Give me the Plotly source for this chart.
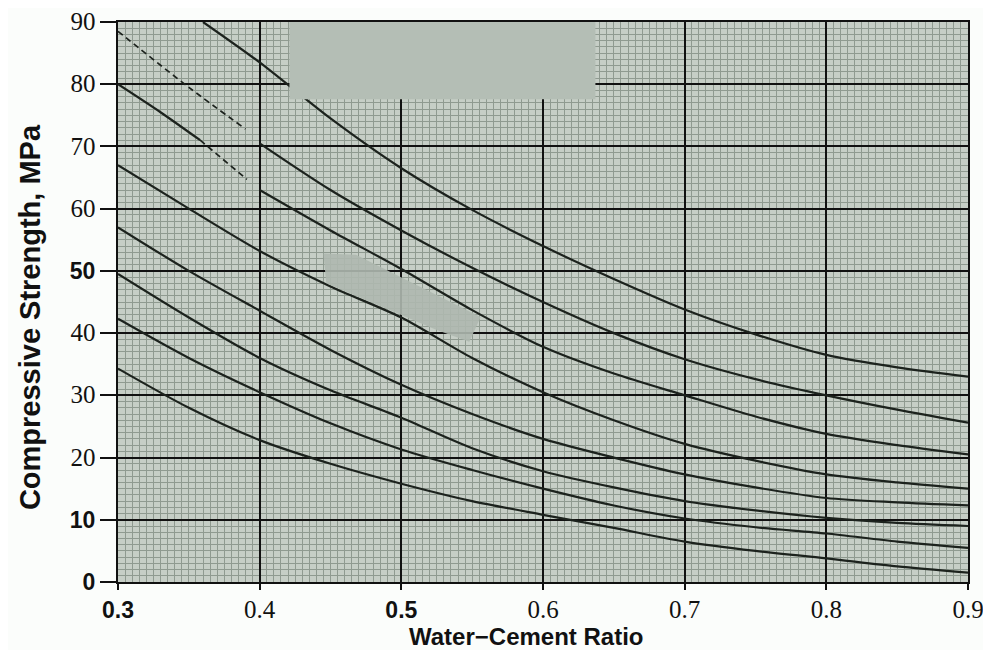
import plotly.graph_objects as go

# ---- data ----
wc = [0.30, 0.35, 0.40, 0.45, 0.50, 0.55, 0.60, 0.65, 0.70, 0.75, 0.80, 0.85, 0.90]

c1_x = [0.36, 0.40, 0.45, 0.50, 0.55, 0.60, 0.65, 0.70, 0.75, 0.80, 0.85, 0.90]
c1_y = [90, 83.5, 74.5, 66.5, 59.8, 54, 48.7, 43.8, 39.8, 36.5, 34.5, 33]

c2_dash_x = [0.30, 0.35, 0.39]
c2_dash_y = [88.5, 79.5, 72.8]
c2_x = [0.40, 0.45, 0.50, 0.55, 0.60, 0.65, 0.70, 0.75, 0.80, 0.85, 0.90]
c2_y = [70.5, 63, 56.5, 50.5, 45, 40, 35.8, 32.6, 30, 27.7, 25.6]

c3_a_x = [0.30, 0.33, 0.358]
c3_a_y = [80, 75.5, 71]
c3_dash_x = [0.358, 0.391]
c3_dash_y = [71, 64.7]
c3_x = [0.40, 0.45, 0.50, 0.55, 0.60, 0.65, 0.70, 0.75, 0.80, 0.85, 0.90]
c3_y = [63, 56.5, 50.3, 43.7, 37.8, 33.5, 30, 26.6, 23.8, 22, 20.5]

c4_y = [67, 60, 53.2, 47.5, 42.5, 36, 30.5, 26, 22.2, 19.5, 17.3, 16, 15]
c5_y = [57, 50, 43.6, 37.3, 31.7, 27, 23, 20, 17.3, 15.2, 13.5, 12.8, 12.3]
c6_y = [49.5, 42.5, 36, 30.8, 26.4, 21.5, 17.8, 15.2, 13, 11.5, 10.3, 9.5, 9]
c7_y = [42.3, 36, 30.5, 25.5, 21.3, 18, 15, 12.3, 10.2, 8.8, 7.8, 6.5, 5.5]
c8_y = [34.3, 28, 22.8, 19, 15.8, 13, 10.8, 8.7, 6.5, 5, 3.8, 2.5, 1.5]

x_ticks = [0.3, 0.4, 0.5, 0.6, 0.7, 0.8, 0.9]
x_labels = ["0.3", "0.4", "0.5", "0.6", "0.7", "0.8", "0.9"]
x_bold = [True, False, True, False, False, False, False]
y_ticks = [0, 10, 20, 30, 40, 50, 60, 70, 80, 90]
y_labels = ["0", "10", "20", "30", "40", "50", "60", "70", "80", "90"]
y_bold = [True, True, False, False, False, True, False, False, False, False]

x_title = "Water−Cement Ratio"
y_title = "Compressive Strength, MPa"

SERIF = "Liberation Serif"
SANS = "Liberation Sans"
INK = "#1c221d"


def fmt(lbl, bold):
    if bold:
        return f"<span style='font-family:{SANS};font-size:23px'><b>{lbl}</b></span>"
    return f"<span style='font-family:{SERIF};font-size:25px'>{lbl}</span>"


fig = go.Figure()


def add(x, y, dash="solid", width=2.2):
    fig.add_trace(go.Scatter(
        x=x, y=y, mode="lines",
        line=dict(color=INK, width=width, dash=dash, shape="spline", smoothing=0.8),
        hoverinfo="skip", showlegend=False))


add(c1_x, c1_y)
add(c2_dash_x, c2_dash_y, dash="6px,4px", width=1.7)
add(c2_x, c2_y)
add(c3_a_x, c3_a_y)
add(c3_dash_x, c3_dash_y, dash="6px,4px", width=1.7)
add(c3_x, c3_y)
for ys in (c4_y, c5_y, c6_y, c7_y, c8_y):
    add(wc, ys)

# erased label patches of the scan
fig.add_shape(type="rect", xref="x", yref="y", x0=0.421, x1=0.637, y0=77.6, y1=90,
              fillcolor="#b4beb5", line_width=0, layer="above")
fig.add_shape(type="path", xref="x", yref="y",
              path="M0.445,52.8 L0.468,52.6 L0.556,42.6 L0.548,38.6 L0.525,40.5 L0.447,48 Z",
              fillcolor="#aeb8af", line_width=0, layer="above", opacity=0.9)

# axis titles
fig.add_annotation(text=f"<b>{x_title}</b>", xref="paper", yref="paper", x=0.481, y=0,
                   xanchor="center", yanchor="top", yshift=-39, showarrow=False,
                   font=dict(size=24, family=SANS, color="#111"))
fig.add_annotation(text=f"<b>{y_title}</b>", xref="paper", yref="paper", x=0, y=0.473,
                   xanchor="center", yanchor="middle", xshift=-88, textangle=-90,
                   showarrow=False, font=dict(size=29, family=SANS, color="#111"))

fig.update_layout(
    width=983, height=642,
    margin=dict(l=110, r=23, t=14, b=68),
    paper_bgcolor="#fbfdfb",
    plot_bgcolor="#c6cec6",
    font=dict(family=SANS, color="#111"),
    xaxis=dict(
        range=[0.3, 0.9], tickvals=x_ticks,
        ticktext=[fmt(l, b) for l, b in zip(x_labels, x_bold)],
        tickfont=dict(size=23, color="#111"),
        ticklabeloverflow="allow", automargin=False,
        showgrid=True, gridcolor="#111", gridwidth=2,
        minor=dict(dtick=0.005, showgrid=True, gridcolor="#8f9a90", gridwidth=1),
        showline=True, linecolor="#111", linewidth=2, mirror=True,
        ticks="outside", ticklen=6, tickwidth=2, tickcolor="#111",
        zeroline=False,
    ),
    yaxis=dict(
        range=[0, 90], tickvals=y_ticks,
        ticktext=[fmt(l, b) for l, b in zip(y_labels, y_bold)],
        tickfont=dict(size=23, color="#111"),
        ticklabeloverflow="allow", automargin=False,
        showgrid=True, gridcolor="#111", gridwidth=2,
        minor=dict(dtick=1, showgrid=True, gridcolor="#8f9a90", gridwidth=1),
        showline=True, linecolor="#111", linewidth=2, mirror=True,
        ticks="outside", ticklen=16, tickwidth=2, tickcolor="#111",
        zeroline=False,
    ),
)

fig.write_html("out.html")
